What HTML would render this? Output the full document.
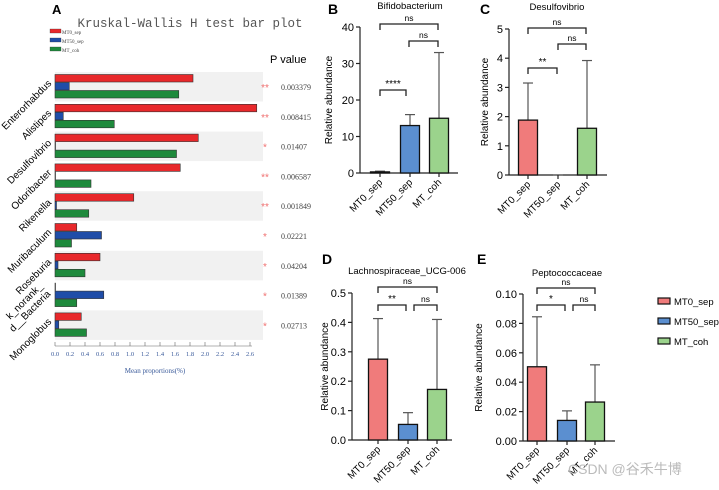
<!DOCTYPE html>
<html><head><meta charset="utf-8">
<style>
body{margin:0;background:#fff;width:719px;height:490px;overflow:hidden;}
svg{display:block;font-family:"Liberation Sans",Arial,sans-serif;}
.serif{font-family:"Liberation Serif","Noto Serif CJK SC",serif;}
</style></head>
<body>
<svg id="fig" width="719" height="490" viewBox="0 0 719 490" xmlns="http://www.w3.org/2000/svg"></svg>
<script>
// ---------- Panel A data ----------
const taxa = ["Enterorhabdus","Alistipes","Desulfovibrio","Odoribacter","Rikenella","Muribaculum","Roseburia","k_norank_\nd__Bacteria","Monoglobus"];
const mt0Sep = [1.84,2.69,1.91,1.67,1.05,0.29,0.60,0.005,0.35];
const mt50Sep = [0.19,0.11,0.005,0.005,0.02,0.62,0.04,0.65,0.05];
const mtCoh = [1.65,0.79,1.62,0.48,0.45,0.22,0.40,0.29,0.42];
const pValues = ["0.003379","0.008415","0.01407","0.006587","0.001849","0.02221","0.04204","0.01389","0.02713"];
const pStars = ["**","**","*","**","**","*","*","*","*"];
const aTicks = [0,0.2,0.4,0.6,0.8,1.0,1.2,1.4,1.6,1.8,2.0,2.2,2.4,2.6];

// ---------- Panels B-E data ----------
const groups = ["MT0_sep","MT50_sep","MT_coh"];
const bMeans = [0.3,13,15];      const bErr = [0.5,16,33];     const bTicks=[0,10,20,30,40];
const cMeans = [1.88,0,1.6];     const cErr = [3.15,0,3.92];   const cTicks=[0,1,2,3,4,5];
const dMeans = [0.275,0.053,0.172]; const dErr=[0.413,0.093,0.41]; const dTicks=[0,0.1,0.2,0.3,0.4,0.5];
const eMeans = [0.0505,0.014,0.0265]; const eErr=[0.0845,0.0205,0.0518]; const eTicks=[0,0.02,0.04,0.06,0.08,0.10];

const NS="http://www.w3.org/2000/svg";
const svg=document.getElementById('fig');
function mk(tag,attrs,parent,text){const e=document.createElementNS(NS,tag);for(const k in attrs)e.setAttribute(k,attrs[k]);if(text!==undefined)e.textContent=text;(parent||svg).appendChild(e);return e;}

// ===== Panel A =====
const gA=mk('g',{});


const ax=v=>55+75*v;
const rowTop=i=>72+i*29.8;
let t=mk('text',{x:52,y:14,'font-size':13,'font-weight':'bold'},gA,'A');

t=mk('text',{x:190,y:27,'font-size':12.5,'text-anchor':'middle',fill:'#555','font-family':'"Liberation Mono",monospace'},gA,'Kruskal-Wallis H test bar plot');

const aCols=['#e8282b','#1f4da8','#1e8a3c'];const aNames=['MT0_sep','MT50_sep','MT_coh'];
aNames.forEach((n,k)=>{
  const lg=mk('g',{},gA);
  
  
  mk('rect',{x:50,y:29+k*9,width:11,height:4,fill:aCols[k],stroke:'#333','stroke-width':0.3},lg);
  mk('text',{x:62,y:34+k*9,'font-size':5,fill:'#444',class:'serif'},lg,n);
});
t=mk('text',{x:270,y:63,'font-size':11},gA,'P value');

taxa.forEach((name,i)=>{
  const y0=rowTop(i);
  if(i%2===0){const bg=mk('rect',{x:55,y:y0,width:208,height:29.5,fill:'#f1f1f1'},gA);
    }
  [mt0Sep,mt50Sep,mtCoh].forEach((arr,k)=>{
    const r=mk('rect',{x:55,y:y0+2.5+k*8,width:Math.max(0.5,ax(arr[i])-55),height:7.5,fill:aCols[k],stroke:'#333','stroke-width':0.6},gA);
    
    
  });
  const cy=y0+15;
  const lines=name.split('\n');
  const lt=mk('text',{'font-size':10,'text-anchor':'end',transform:`translate(52,${y0+12}) rotate(-45)`},gA);
  
  if(lines.length>1){
    lt.setAttribute('transform',`translate(51,${y0+14}) rotate(-45)`);
    mk('tspan',{x:0,dy:'-11'},lt,lines[0]);
    mk('tspan',{x:0,dy:'11'},lt,lines[1]);
  } else { lt.textContent=name; }
  const st=mk('text',{x:265,y:cy+4,'font-size':10,fill:'#f07070','text-anchor':'middle'},gA,pStars[i]);
  
  const pv=mk('text',{x:281,y:cy+3,'font-size':8,fill:'#444',class:'serif'},gA,pValues[i]);
  
});
mk('line',{x1:55,x2:252,y1:346,y2:346,stroke:'#666','stroke-width':0.6},gA);
aTicks.forEach(v=>{
  mk('line',{x1:ax(v),x2:ax(v),y1:342,y2:346,stroke:'#666','stroke-width':0.6},gA);
  const tl=mk('text',{x:ax(v),y:356,'font-size':6.5,'text-anchor':'middle',fill:'#3a5a9a',class:'serif'},gA,v.toFixed(1));
  
});
t=mk('text',{x:155,y:373,'font-size':7,'text-anchor':'middle',fill:'#3a5a9a',class:'serif'},gA,'Mean proportions(%)');


// ===== Panels B-E =====
const fills=['#f07b7b','#5b8fd0','#9bd38c'];
function panel(o){
  const g=mk('g',{});
  
  
  const max=o.ticks[o.ticks.length-1];
  const sy=v=>o.y0-(o.y0-o.yTop)*v/max;
  let e=mk('text',{x:o.lx,y:o.ly,'font-size':14,'font-weight':'bold'},g,o.letter);
  
  e=mk('text',{x:o.tx,y:o.ty,'font-size':9.5,'text-anchor':'middle'},g,o.title);
  
  mk('line',{x1:o.ax,x2:o.ax,y1:o.yTop,y2:o.y0,stroke:'#222','stroke-width':1.2},g);
  mk('line',{x1:o.ax,x2:o.axEnd,y1:o.y0,y2:o.y0,stroke:'#222','stroke-width':1.2},g);
  o.ticks.forEach(v=>{
    mk('line',{x1:o.ax-4,x2:o.ax,y1:sy(v),y2:sy(v),stroke:'#222','stroke-width':1.2},g);
    const tl=mk('text',{x:o.ax-6,y:sy(v)+4,'font-size':11,'text-anchor':'end'},g,o.fmt(v));
    
  });
  e=mk('text',{'font-size':10,'text-anchor':'middle',transform:`translate(${o.ax-o.yt},${(o.yTop+o.y0)/2}) rotate(-90)`},g,'Relative abundance');
  
  groups.forEach((gn,i)=>{
    const cx=o.cx[i];
    const top=sy(o.means[i]), et=sy(o.err[i]);
    mk('line',{x1:cx,x2:cx,y1:et,y2:top,stroke:'#555','stroke-width':1.2},g);
    mk('line',{x1:cx-5,x2:cx+5,y1:et,y2:et,stroke:'#555','stroke-width':1.2},g);
    if(o.means[i]>0){
      const b=mk('rect',{x:cx-9.5,y:top,width:19,height:o.y0-top,fill:fills[i],stroke:'#111','stroke-width':1.3},g);
      
      
    }
    mk('line',{x1:cx,x2:cx,y1:o.y0,y2:o.y0+4,stroke:'#222','stroke-width':1.2},g);
    const xl=mk('text',{'font-size':10,'text-anchor':'end',transform:`translate(${cx+3},${o.y0+10}) rotate(-45)`},g,gn);
    
  });
  o.brackets.forEach(b=>{
    const p=mk('path',{d:`M${b[0]},${b[2]+6}V${b[2]}H${b[1]}V${b[2]+6}`,fill:'none',stroke:'#222','stroke-width':1.3},g);
    
    const s=mk('text',{x:(b[0]+b[1])/2,y:b[2]-3,'font-size':b[3]==='ns'?8.5:10,'text-anchor':'middle'},g,b[3]);
    
  });
}
panel({name:'panel-b',letter:'B',lx:328,ly:14,title:'Bifidobacterium',tx:410,ty:9,ax:360,axEnd:458,yt:28,yTop:27,y0:173,ticks:bTicks,fmt:v=>String(v),
  cx:[380,410,439],means:bMeans,err:bErr,brackets:[[380,438,24,'ns'],[409,438,41,'ns'],[380,406,90,'****']]});
panel({name:'panel-c',letter:'C',lx:480,ly:14,title:'Desulfovibrio',tx:557,ty:10,ax:509,axEnd:607,yt:21,yTop:29,y0:175,ticks:cTicks,fmt:v=>String(v),
  cx:[528,558,587],means:cMeans,err:cErr,brackets:[[528,586,28,'ns'],[558,586,44,'ns'],[528,557,68,'**']]});
panel({name:'panel-d',letter:'D',lx:322,ly:264,title:'Lachnospiraceae_UCG-006',tx:407,ty:274,ax:352,axEnd:452,yt:24,yTop:293,y0:440,ticks:dTicks,fmt:v=>v.toFixed(1),
  cx:[378,408,437],means:dMeans,err:dErr,brackets:[[378,437,287,'ns'],[378,406,305,'**'],[414,437,305,'ns']]});
panel({name:'panel-e',letter:'E',lx:477,ly:264,title:'Peptococcaceae',tx:567,ty:276,ax:523,axEnd:615,yt:41,yTop:294,y0:441,ticks:eTicks,fmt:v=>v.toFixed(2),
  cx:[537,567,595],means:eMeans,err:eErr,brackets:[[537,595,288,'ns'],[537,565,305,'*'],[573,595,305,'ns']]});

// legend
groups.forEach((gn,i)=>{
  const lg=mk('g',{});
  
  
  mk('rect',{x:658,y:298+i*20,width:12,height:6,fill:fills[i],stroke:'#111','stroke-width':1.2},lg);
  mk('text',{x:674,y:305+i*20,'font-size':9.5},lg,gn);
});
t=mk('text',{x:568,y:474,'font-size':14,fill:'#bbb','font-family':'"Liberation Sans","Noto Sans CJK SC",sans-serif'},svg,'CSDN @谷禾牛博');

</script>
</body></html>
